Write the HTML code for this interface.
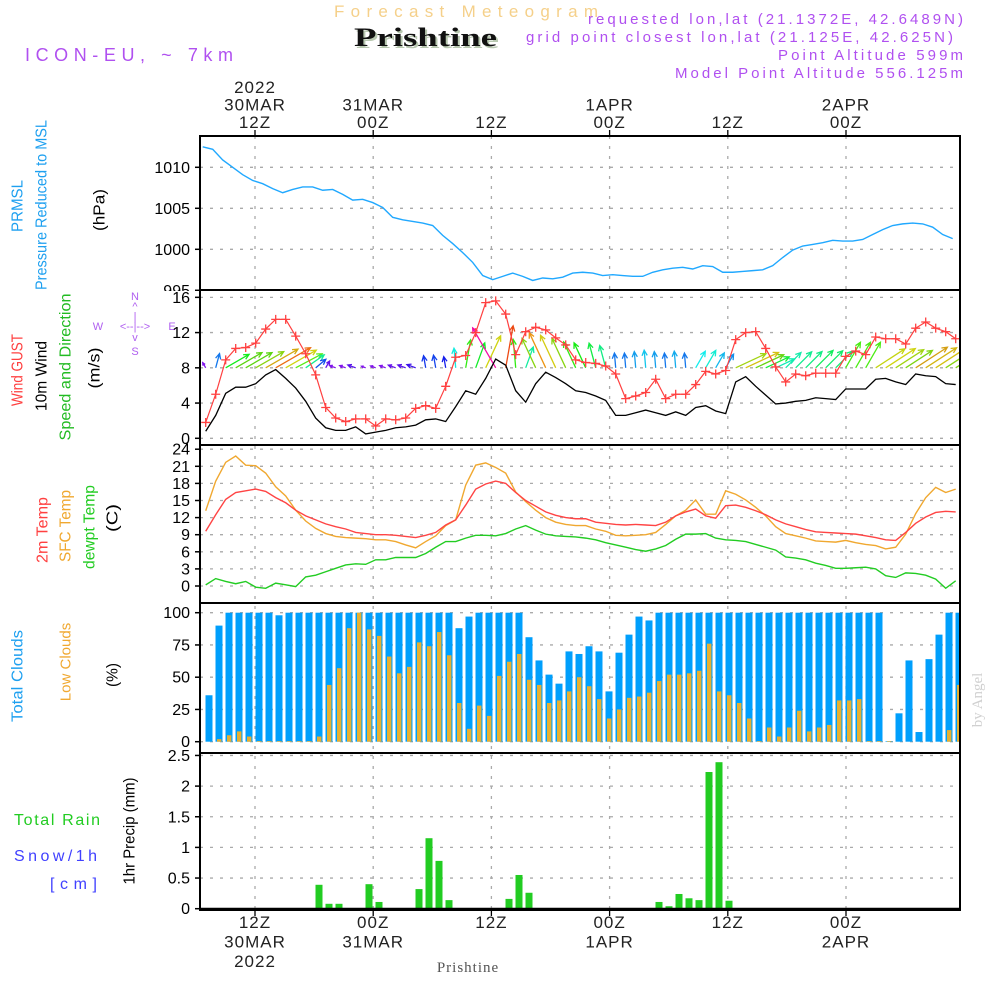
<!DOCTYPE html>
<html><head><meta charset="utf-8"><title>Forecast Meteogram Prishtine</title>
<style>
html,body{margin:0;padding:0;background:#fff;}
svg{display:block;font-family:"Liberation Sans",sans-serif;}
</style></head>
<body>
<svg id="chart" width="1000" height="1000" viewBox="0 0 1000 1000" xmlns="http://www.w3.org/2000/svg">
  <defs>
    <clipPath id="pclip"><rect x="0" y="130" width="1000" height="161"/></clipPath>
    <clipPath id="plotclip"><rect x="201" y="137" width="758" height="772"/></clipPath>
  </defs>
  <!-- header -->
  <text x="334" y="17" fill="#f5d08a" font-size="17" textLength="264" lengthAdjust="spacing">Forecast Meteogram</text>
  <text x="356" y="48" fill="#b8c8b0" font-family="Liberation Serif, serif" font-weight="bold" font-size="26" textLength="143" lengthAdjust="spacingAndGlyphs">Prishtine</text>
  <text x="354" y="46" fill="#111" font-family="Liberation Serif, serif" font-weight="bold" font-size="26" textLength="143" lengthAdjust="spacingAndGlyphs">Prishtine</text>
  <text x="25" y="61" fill="#b050f0" font-size="18" textLength="208" lengthAdjust="spacing">ICON-EU, ~ 7km</text>
  <text x="588" y="24" fill="#b050f0" font-size="15" textLength="375" lengthAdjust="spacing">requested lon,lat (21.1372E, 42.6489N)</text>
  <text x="526" y="42" fill="#b050f0" font-size="15" textLength="427" lengthAdjust="spacing">grid point closest lon,lat (21.125E, 42.625N)</text>
  <text x="778" y="60" fill="#b050f0" font-size="15" textLength="185" lengthAdjust="spacing">Point Altitude 599m</text>
  <text x="675" y="78" fill="#b050f0" font-size="15" textLength="288" lengthAdjust="spacing">Model Point Altitude 556.125m</text>

  <!-- left labels -->
  <g font-size="16" dominant-baseline="central" text-anchor="middle">
    <text transform="translate(18,206) rotate(-90)" fill="#1ea0f0" textLength="52" lengthAdjust="spacingAndGlyphs">PRMSL</text>
    <text transform="translate(42,205) rotate(-90)" fill="#1ea0f0" textLength="170" lengthAdjust="spacingAndGlyphs">Pressure Reduced to MSL</text>
    <text transform="translate(100,210) rotate(-90)" fill="#000" textLength="42" lengthAdjust="spacingAndGlyphs">(hPa)</text>
    <text transform="translate(18,370) rotate(-90)" fill="#ff4040" textLength="72" lengthAdjust="spacingAndGlyphs">Wind GUST</text>
    <text transform="translate(42,376) rotate(-90)" fill="#000" textLength="70" lengthAdjust="spacingAndGlyphs">10m Wind</text>
    <text transform="translate(66,367) rotate(-90)" fill="#22bb22" textLength="147" lengthAdjust="spacingAndGlyphs">Speed and Direction</text>
    <text transform="translate(95,368) rotate(-90)" fill="#000" textLength="41" lengthAdjust="spacingAndGlyphs">(m/s)</text>
    <text transform="translate(43,530) rotate(-90)" fill="#ff4040" textLength="66" lengthAdjust="spacingAndGlyphs">2m Temp</text>
    <text transform="translate(66,526) rotate(-90)" fill="#f0a830" textLength="72" lengthAdjust="spacingAndGlyphs">SFC Temp</text>
    <text transform="translate(90,527) rotate(-90)" fill="#22cc22" textLength="84" lengthAdjust="spacingAndGlyphs">dewpt Temp</text>
    <text transform="translate(113,518) rotate(-90)" fill="#000" textLength="28" lengthAdjust="spacingAndGlyphs">(C)</text>
    <text transform="translate(18,676) rotate(-90)" fill="#1ea0f0" textLength="92" lengthAdjust="spacingAndGlyphs">Total Clouds</text>
    <text transform="translate(66,662) rotate(-90)" fill="#f0a830" font-size="15">Low Clouds</text>
    <text transform="translate(113,675) rotate(-90)" fill="#000" textLength="24" lengthAdjust="spacingAndGlyphs">(%)</text>
    <text transform="translate(130,831) rotate(-90)" fill="#000" textLength="107" lengthAdjust="spacingAndGlyphs">1hr Precip (mm)</text>
  </g>
  <text x="14" y="825" fill="#22cc22" font-size="16" textLength="86" lengthAdjust="spacing">Total   Rain</text>
  <text x="14" y="861" fill="#4040ff" font-size="16" textLength="83" lengthAdjust="spacing">Snow/1h</text>
  <text x="50" y="889" fill="#4040ff" font-size="16" textLength="47" lengthAdjust="spacing">[cm]</text>
  <g fill="#b060f0" font-size="11" text-anchor="middle">
    <text x="135" y="300">N</text><text x="135" y="310">^</text><text x="135" y="320">|</text>
    <text x="98" y="330">W</text><text x="135" y="330">&lt;--|--&gt;</text><text x="172" y="330">E</text>
    <text x="135" y="341">v</text><text x="135" y="355">S</text>
  </g>
  <text transform="translate(982,700) rotate(-90)" fill="#d0d0d0" font-family="Liberation Serif, serif" font-size="15" text-anchor="middle">by Angel</text>
  <text x="468" y="972" fill="#555" font-family="Liberation Serif, serif" font-size="15" text-anchor="middle" letter-spacing="1">Prishtine</text>

  <g id="grid"></g>
  <g id="marks" clip-path="url(#plotclip)"></g>
  <g id="axes"></g>
</svg>
<script>
// ---- data (hourly from 07Z 30MAR) ----
const pressure = [1012.5,1012.2,1010.9,1010.0,1009.1,1008.4,1008.0,1007.4,1006.9,1007.3,1007.6,1007.6,1007.2,1007.3,1006.7,1006.0,1006.1,1005.7,1005.1,1003.9,1003.6,1003.4,1003.2,1002.9,1001.7,1000.7,999.6,998.4,996.8,996.3,996.7,997.1,996.7,996.2,996.5,996.4,996.6,997.1,997.2,997.1,996.8,996.9,996.8,996.7,996.7,997.2,997.5,997.7,997.8,997.6,998.0,997.9,997.2,997.2,997.3,997.4,997.5,998.0,999.0,999.9,1000.4,1000.6,1000.8,1001.1,1001.0,1001.0,1001.2,1001.8,1002.4,1002.9,1003.1,1003.2,1003.1,1002.7,1001.8,1001.3];
const windGust = [1.8,5.0,8.9,10.2,10.3,10.8,12.4,13.5,13.5,11.6,9.6,7.2,3.5,2.3,1.9,2.2,2.2,1.4,2.2,2.1,2.3,3.4,3.7,3.4,5.9,9.2,9.4,12.0,15.4,15.6,14.1,9.5,12.1,12.6,12.3,11.4,10.6,8.9,8.6,8.5,8.2,7.3,4.5,4.8,5.2,6.7,4.5,5.0,5.0,6.1,7.6,7.3,7.7,11.2,12.0,12.1,10.2,8.1,6.4,7.3,7.1,7.4,7.4,7.4,9.3,9.9,9.5,11.5,11.3,11.3,10.7,12.5,13.2,12.5,12.1,11.3];
const windSpeed = [0.8,2.6,5.1,5.8,5.8,6.2,7.2,7.8,6.8,5.7,4.2,2.3,1.2,0.9,0.9,1.3,0.5,0.7,0.9,1.2,1.3,1.5,2.1,2.2,1.9,3.6,5.4,5.0,6.8,9.0,8.3,5.4,4.1,6.2,7.5,6.9,6.2,5.4,5.2,4.8,4.3,2.6,2.6,2.9,3.2,2.9,2.6,3.0,2.6,3.5,3.7,3.1,2.8,6.4,7.0,5.9,4.9,3.9,4.0,4.2,4.3,4.6,4.5,4.4,5.6,5.6,5.6,6.7,6.8,6.4,6.1,7.3,7.1,7.0,6.2,6.1];
const windHeading = [120,75,30,30,30,30,30,30,30,28,35,40,60,160,160,160,160,160,160,160,160,160,100,100,100,95,80,70,65,120,80,95,70,115,115,115,115,115,115,105,105,95,95,95,95,95,95,95,95,60,60,60,60,25,25,25,25,25,45,45,45,45,45,45,60,60,60,33,33,33,33,33,33,33,33,33];
const temp2m = [9.6,12.5,15.2,16.4,16.7,17.0,16.6,15.5,14.6,13.3,12.3,11.6,10.9,10.4,10.0,9.4,9.2,9.0,9.0,8.9,8.7,8.5,8.9,9.4,10.7,11.6,14.2,17.0,17.9,18.4,18.0,16.4,15.0,14.0,13.0,12.4,12.0,11.8,11.8,11.2,11.0,10.8,10.7,10.8,10.7,10.6,11.2,12.3,13.0,13.5,12.3,11.9,14.1,14.2,13.8,13.2,12.5,11.6,10.9,10.4,9.9,9.5,9.4,9.3,9.2,9.1,8.8,8.5,8.1,8.0,9.4,11.0,12.1,12.9,13.1,13.0];
const tempSfc = [13.2,18.4,21.7,22.8,21.2,21.1,19.8,17.4,15.8,13.3,11.4,10.1,9.2,8.7,8.5,8.4,8.3,8.1,8.1,7.8,7.2,6.7,7.8,8.8,10.6,11.6,17.7,21.2,21.6,20.8,19.8,16.5,14.8,13.3,12.0,11.2,10.8,10.6,10.6,10.0,9.6,8.9,8.8,8.9,9.0,9.4,10.8,12.3,13.3,15.1,12.6,12.6,16.7,16.1,15.1,13.8,12.3,10.4,9.2,8.8,8.4,7.9,7.8,7.7,8.0,7.6,7.3,7.1,6.5,6.8,9.1,12.7,15.5,17.3,16.4,17.0];
const tempDew = [0.2,1.3,0.8,0.4,0.8,-0.2,-0.4,0.5,0.2,-0.1,1.6,1.9,2.5,3.1,3.7,3.9,3.8,4.6,4.6,5.0,5.0,5.0,5.7,6.8,7.8,7.8,8.4,8.9,8.9,8.8,9.2,10.0,10.6,9.8,9.1,8.8,8.7,8.6,8.4,8.1,7.6,7.2,6.8,6.4,6.1,6.5,7.1,8.2,9.1,9.1,9.2,8.4,8.1,8.0,7.8,7.3,6.8,6.3,5.1,4.9,4.6,4.0,3.6,3.1,3.1,3.2,3.3,3.0,1.8,1.5,2.3,2.2,1.9,1.2,-0.4,0.9];
const totalClouds = [36,90,100,100,100,100,100,98,100,100,100,100,100,100,100,100,100,100,100,100,100,100,100,100,100,88,97,100,100,100,100,100,81,63,52,45,70,68,74,70,39,69,83,97,94,100,100,100,100,100,100,100,100,100,100,100,100,100,100,100,100,100,100,100,100,100,100,100,0.5,22,63,7.5,64,83,100,100];
const lowClouds = [0,2,5,8,4,0.5,0.5,0.5,0.5,0.5,0.5,4,44,57,88,100,87,82,66,53,58,77,74,85,67,30,10,28,20,51,62,68,48,44,30,32,39,50,43,33,18,25,34,35,38,47,52,52,53,55,76,39,36,30,18,0.5,11,4,11,24,8,11,13,32,32,33,0.5,0.5,0.5,0,0,0,0,0,9,44];
const precip = [0,0,0,0,0,0,0,0,0,0,0,0.39,0.08,0.08,0,0,0.40,0.11,0,0,0,0.32,1.15,0.78,0.14,0,0,0,0,0,0.16,0.55,0.26,0,0,0,0,0,0,0,0,0,0,0,0,0.11,0.04,0.24,0.17,0.14,2.23,2.39,0.13,0,0,0,0,0,0,0,0,0,0,0,0,0,0,0,0,0,0,0,0,0,0,0];
const pressureTicks = [995,1000,1005,1010];
const windTicks = [0,4,8,12,16];
const tempTicks = [0,3,6,9,12,15,18,21,24];
const cloudTicks = [0,25,50,75,100];
const precipTicks = [0,0.5,1,1.5,2,2.5];
const precipTickLabels = ["0","0.5","1","1.5","2","2.5"];
const timeTopLines = [["2022","30MAR","12Z"],["31MAR","00Z"],["12Z"],["1APR","00Z"],["12Z"],["2APR","00Z"]];
const timeBottomLines = [["12Z","30MAR","2022"],["00Z","31MAR"],["12Z"],["00Z","1APR"],["12Z"],["00Z","2APR"]];

// ---- scales ----
const NS = "http://www.w3.org/2000/svg";
const L = 200, R = 960, TOP = 136, BOT = 910;
function xH(i){ return 205.7 + 10*i; }
function xBar(i){ return 209 + 10*i; }
function xTick(k){ return 255 + 118.2*k; }
function yP(v){ return 167.3 + (1010 - v)*8.2; }
function yW(v){ return 438.3 - v*8.81; }
function yT(v){ return 586 - v*5.7; }
function yC(v){ return 741.7 - v*1.29; }
function yR(v){ return 908.7 - v*61.3; }
function mk(tag, attrs, parent){
  const e = document.createElementNS(NS, tag);
  for (const k in attrs) e.setAttribute(k, attrs[k]);
  parent.appendChild(e);
  return e;
}
const grid = document.getElementById('grid');
const marks = document.getElementById('marks');
const axes = document.getElementById('axes');

// ---- gridlines ----
const panels = [
  {ticks: pressureTicks.slice(1), f: yP, name: 'pressure'},
  {ticks: windTicks, f: yW, name: 'wind'},
  {ticks: tempTicks, f: yT, name: 'temp'},
  {ticks: cloudTicks, f: yC, name: 'cloud'},
  {ticks: precipTicks, f: yR, name: 'precip'}
];
panels.forEach(p => {
  p.ticks.forEach(t => {
    const y = p.f(t);
    const g = mk('line', {x1: L, x2: R, y1: y, y2: y, stroke: '#aaa', 'stroke-width': 1.3, 'stroke-dasharray': '3,7'}, grid);
    
    
  });
});
for (let k = 0; k < 6; k++) {
  const v = mk('line', {x1: xTick(k), x2: xTick(k), y1: TOP, y2: BOT, stroke: '#aaa', 'stroke-width': 1.3, 'stroke-dasharray': '3,7'}, grid);
  
  
}

// ---- pressure ----
const pp = mk('polyline', {points: pressure.map((v,i)=>xH(i)-3+','+yP(v)).join(' '), fill: 'none', stroke: '#20a8ff', 'stroke-width': 1.4}, marks);



// ---- wind arrows ----
function arrowColor(s){
  if (s >= 8.5) return 'hsl(320,90%,50%)';
  let h = 270 - (Math.max(1, s) - 1)*36;
  if (h < 15) h = 15;
  return 'hsl(' + h + ',85%,' + (h > 40 && h < 100 ? 45 : 50) + '%)';
}
windSpeed.forEach((s, i) => {
  const x0 = xH(i), y0 = yW(8);
  const len = s*4.9 + 2;
  const a = windHeading[i]*Math.PI/180;
  const x1 = x0 + len*Math.cos(a), y1 = y0 - len*Math.sin(a);
  const c = arrowColor(s);
  const h = Math.min(6, len*0.5);
  const la = a + Math.PI - 0.45, ra = a + Math.PI + 0.45;
  const g = mk('path', {d: 'M' + x0 + ',' + y0 + 'L' + x1 + ',' + y1 + 'M' + (x1 + h*Math.cos(la)) + ',' + (y1 - h*Math.sin(la)) + 'L' + x1 + ',' + y1 + 'L' + (x1 + h*Math.cos(ra)) + ',' + (y1 - h*Math.sin(ra)),
    fill: 'none', stroke: c, 'stroke-width': 1.3}, marks);
  
  
});
// gust
const gl = mk('polyline', {points: windGust.map((v,i)=>xH(i)+','+yW(v)).join(' '), fill: 'none', stroke: '#ff4040', 'stroke-width': 1.2}, marks);


windGust.forEach((v,i) => {
  const x = xH(i), y = yW(v);
  const m = mk('path', {d: 'M'+(x-4.5)+','+y+'H'+(x+4.5)+'M'+x+','+(y-4.5)+'V'+(y+4.5), stroke: '#ff4040', 'stroke-width': 1.3}, marks);
  
  
});
const wl = mk('polyline', {points: windSpeed.map((v,i)=>xH(i)+','+yW(v)).join(' '), fill: 'none', stroke: '#000', 'stroke-width': 1.3}, marks);



// ---- temperatures ----
[[tempSfc,'#f0a830','sfc-temp-line'],[temp2m,'#ff4444','temp-2m-line'],[tempDew,'#22cc22','dewpt-temp-line']].forEach(s => {
  const t = mk('polyline', {points: s[0].map((v,i)=>xH(i)+','+yT(v)).join(' '), fill: 'none', stroke: s[1], 'stroke-width': 1.4}, marks);
  
  
});

// ---- clouds ----
totalClouds.forEach((v,i) => {
  const b = mk('rect', {x: xBar(i)-3.5, y: yC(v), width: 7, height: Math.max(0, yC(0)-yC(v)), fill: '#009ffc'}, marks);
  
  
});
lowClouds.forEach((v,i) => {
  const b = mk('rect', {x: xBar(i)-2, y: yC(v), width: 4.4, height: Math.max(0, yC(0)-yC(v)), fill: '#e8b030'}, marks);
  
  
});

// ---- precip ----
precip.forEach((v,i) => {
  if (v <= 0) return;
  const b = mk('rect', {x: xBar(i)-3.5, y: yR(v), width: 7, height: yR(0)-yR(v), fill: '#22cc22'}, marks);
  
  
});

// ---- frame & panel dividers ----
const fr = mk('rect', {x: L, y: TOP, width: R-L, height: BOT-TOP, fill: 'none', stroke: '#000', 'stroke-width': 2}, axes);


[290, 445, 603, 753].forEach(y => {
  const d = mk('line', {x1: L, x2: R, y1: y, y2: y, stroke: '#000', 'stroke-width': 2}, axes);
  
  
});
const zl = mk('line', {x1: L, x2: R, y1: yR(0), y2: yR(0), stroke: '#000', 'stroke-width': 2}, axes);



// ---- y tick labels ----
function yLabels(ticks, labels, f, name, clip){
  const g = mk('g', {}, axes);
  if (clip) g.setAttribute('clip-path', 'url(#pclip)');
  ticks.forEach((t,k) => {
    const y = f(t);
    const tm = mk('line', {x1: L-5, x2: L, y1: y, y2: y, stroke: '#000', 'stroke-width': 1.5}, g);
    
    
    const tx = mk('text', {x: 190, y: y + 5.5, 'text-anchor': 'end', 'font-size': 16, fill: '#000'}, g);
    tx.textContent = labels[k];
    
    
  });
}
yLabels(pressureTicks, pressureTicks.map(String), yP, 'pressure', true);
yLabels(windTicks, windTicks.map(String), yW, 'wind');
yLabels(tempTicks, tempTicks.map(String), yT, 'temp');
yLabels(cloudTicks, cloudTicks.map(String), yC, 'cloud');
yLabels(precipTicks, precipTickLabels, yR, 'precip');

// ---- time axes ----
for (let k = 0; k < 6; k++) {
  const x = xTick(k);
  const t1 = mk('line', {x1: x, x2: x, y1: TOP-6, y2: TOP, stroke: '#000', 'stroke-width': 1.3}, axes);
  
  
  const t2 = mk('line', {x1: x, x2: x, y1: BOT, y2: BOT+6, stroke: '#000', 'stroke-width': 1.3}, axes);
  
  
  const top = timeTopLines[k];
  top.forEach((s, j) => {
    const y = 128 - (top.length - 1 - j)*17.5;
    const tx = mk('text', {x: x, y: y, 'text-anchor': 'middle', 'font-size': 17, fill: '#222', 'letter-spacing': 1}, axes);
    tx.textContent = s;
    
    
  });
  timeBottomLines[k].forEach((s, j) => {
    const tx = mk('text', {x: x, y: 928 + j*19.5, 'text-anchor': 'middle', 'font-size': 17, fill: '#222', 'letter-spacing': 1}, axes);
    tx.textContent = s;
    
    
  });
}
</script>
</body></html>
